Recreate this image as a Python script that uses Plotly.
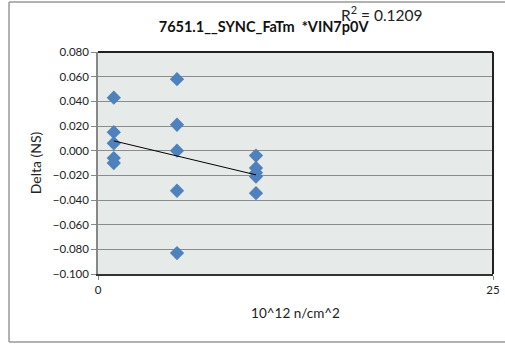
import numpy as np
import plotly.graph_objects as go

# Data
fluence = [1, 1, 1, 1, 1, 5, 5, 5, 5, 5, 10, 10, 10, 10, 10]
delta = [0.043, 0.015, 0.006, -0.006, -0.010,
         0.058, 0.021, 0.000, -0.0325, -0.083,
         -0.004, -0.014, -0.018, -0.021, -0.0345]
y_ticks = [-0.100, -0.080, -0.060, -0.040, -0.020, 0.000, 0.020, 0.040, 0.060, 0.080]
x_ticks = [0, 25]
title_text = "7651.1__SYNC_FaTm  *VIN7p0V"
r2_text = "R<sup>2</sup> = 0.1209"

x = np.array(fluence, dtype=float)
y = np.array(delta, dtype=float)
slope, intercept = np.polyfit(x, y, 1)
xt = np.array([x.min(), x.max()])
yt = slope * xt + intercept

fig = go.Figure()
fig.add_trace(go.Scatter(
    x=fluence, y=delta, mode="markers",
    marker=dict(symbol="diamond", size=11, color="#4F81BD",
                line=dict(width=0)),
    showlegend=False, hoverinfo="skip", cliponaxis=False))
fig.add_trace(go.Scatter(
    x=xt, y=yt, mode="lines",
    line=dict(color="black", width=1),
    showlegend=False, hoverinfo="skip"))

font = "Lato, 'Open Sans', sans-serif"
fig.update_layout(
    width=505, height=346,
    margin=dict(l=98, r=12, t=52, b=72, autoexpand=False),
    paper_bgcolor="white",
    plot_bgcolor="#E6EBEA",
    font=dict(family=font, size=11.5, color="#222"),
    title=dict(text="<b>" + title_text + "</b>", x=0.522, xanchor="center",
               y=1 - 27 / 346, yanchor="middle", yref="container",
               automargin=False,
               font=dict(size=14.5, color="#111", family=font)),
    xaxis=dict(range=[0, 25], tickvals=x_ticks, ticktext=["0", "25"],
               automargin=False,
               showgrid=False, zeroline=False,
               ticks="outside", ticklen=4, tickcolor="#888",
               showline=True, linecolor="#333", linewidth=1.5, mirror=False,
               tickfont=dict(size=11.5),
               title=dict(text="10^12 n/cm^2", font=dict(size=13.5), standoff=14)),
    yaxis=dict(range=[-0.100, 0.080], tickvals=y_ticks,
               tickformat=".3f", automargin=False,
               showgrid=True, gridcolor="#8C8C8C", gridwidth=1,
               zeroline=False,
               ticks="outside", ticklen=5, tickcolor="#888",
               showline=True, linecolor="#888", linewidth=1.5,
               tickfont=dict(size=11.5),
               title=dict(text="Delta (NS)", font=dict(size=14), standoff=8)),
    annotations=[dict(text=r2_text, xref="paper", yref="paper",
                      x=0.718, y=1.175, xanchor="center", yanchor="middle",
                      showarrow=False, font=dict(size=15.5, color="#222"))],
    shapes=[
        dict(type="line", xref="paper", yref="paper", x0=0, x1=1, y0=1, y1=1,
             line=dict(color="#222", width=2)),
        dict(type="line", xref="paper", yref="paper", x0=1, x1=1, y0=0, y1=1,
             line=dict(color="#222", width=2)),
        # outer chart border (left, top, bottom)
        dict(type="line", xref="paper", yref="paper",
             x0=(9 - 98) / 395, x1=(9 - 98) / 395,
             y0=(274 - 342) / 222, y1=(274 - 2) / 222,
             line=dict(color="#999", width=1.5)),
        dict(type="line", xref="paper", yref="paper",
             x0=(9 - 98) / 395, x1=(520 - 98) / 395,
             y0=(274 - 2) / 222, y1=(274 - 2) / 222,
             line=dict(color="#999", width=1.5)),
        dict(type="line", xref="paper", yref="paper",
             x0=(9 - 98) / 395, x1=(520 - 98) / 395,
             y0=(274 - 342) / 222, y1=(274 - 342) / 222,
             line=dict(color="#999", width=1.5)),
    ],
)

fig.write_html("out.html",
               config={"displayModeBar": False},
               post_script="document.body.style.margin='0px';document.body.style.overflow='hidden';")
